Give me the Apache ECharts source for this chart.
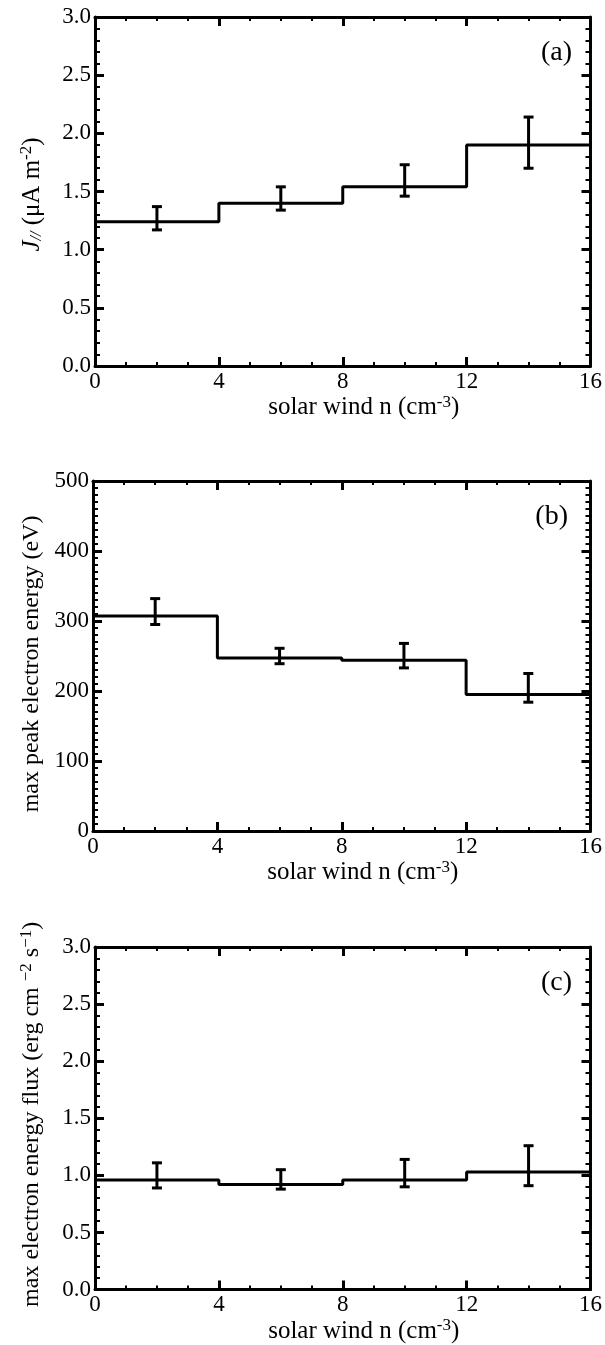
<!DOCTYPE html>
<html>
<head>
<meta charset="utf-8">
<script src="https://cdn.jsdelivr.net/npm/echarts@6/dist/echarts.min.js"></script>
<style>
html,body{margin:0;padding:0;background:#fff;}
#chart{width:605px;height:1345px;}
</style>
</head>
<body>
<div id="chart"></div>
<script>
// ---- data ----
var binEdges = [0, 4, 8, 12, 16];
var binCenters = [2, 6, 10, 14];
var xTicks = [0, 4, 8, 12, 16];

var jParValues = [1.24, 1.40, 1.54, 1.90];
var jParLow    = [1.17, 1.34, 1.46, 1.70];
var jParHigh   = [1.37, 1.54, 1.73, 2.14];

var peakEnergyValues = [307, 247, 244, 195];
var peakEnergyLow    = [295, 239, 233, 184];
var peakEnergyHigh   = [332, 261, 268, 225];

var fluxValues = [0.96, 0.92, 0.96, 1.03];
var fluxLow    = [0.89, 0.88, 0.90, 0.91];
var fluxHigh   = [1.11, 1.05, 1.14, 1.26];

var panelLabels = ['(a)', '(b)', '(c)'];
var xTitle = 'solar wind n (cm{sup|-3})';

// ---- layout/style ----
var FONT = 'Liberation Serif';
var panels = [
  {top: 17, left: 95, right: 8, height: 349, ymin: 0, ymax: 3, yint: 0.5, ysplit: 5, fmt: function(v){return v.toFixed(1);},
   yname: '{i|J}{sub|//} (\u03bcA m{sup|-2})', yfs: 25, ypad: [0, 6, 0, 0], lblRight: 33,
   vals: jParValues, lo: jParLow, hi: jParHigh},
  {top: 481, left: 93, right: 12, height: 350, ymin: 0, ymax: 500, yint: 100, ysplit: 10, fmt: function(v){return String(v);},
   yname: 'max peak electron energy (eV)', yfs: 24, ypad: [0, 16, 0, 0], lblRight: 37,
   vals: peakEnergyValues, lo: peakEnergyLow, hi: peakEnergyHigh},
  {top: 947, left: 95, right: 8, height: 350, ymin: 0, ymax: 3, yint: 0.5, ysplit: 5, fmt: function(v){return v.toFixed(1);},
   yname: 'max electron energy flux (erg cm {sup|\u22122} s{sup|\u22121})', yfs: 24, ypad: [0, 0, 0, 8], lblRight: 33,
   vals: fluxValues, lo: fluxLow, hi: fluxHigh}
];

var rich = {
  sup: {fontFamily: FONT, fontSize: 17, padding: [0, 0, 11, 0], color: '#000'},
  sub: {fontFamily: FONT, fontSize: 16, fontStyle: 'italic', padding: [10, 0, 0, 0], color: '#000'},
  i: {fontFamily: FONT, fontSize: 25, fontStyle: 'italic', color: '#000'}
};

var grids = [], xAxes = [], yAxes = [], series = [], titles = [];
var axisLine = {show: true, onZero: false, lineStyle: {color: '#000', width: 3}};
var tick = {show: true, inside: true, length: 9, lineStyle: {color: '#000', width: 3}};
var minorTickX = {show: true, splitNumber: 4, length: 4, lineStyle: {color: '#000', width: 2}};

panels.forEach(function(p, k) {
  grids.push({left: p.left, right: p.right, top: p.top, height: p.height, containLabel: false});
  // bottom x
  xAxes.push({type: 'value', gridIndex: k, position: 'bottom', min: 0, max: 16, interval: 4,
    axisLine: axisLine, axisTick: tick, minorTick: minorTickX, splitLine: {show: false},
    axisLabel: {show: true, margin: 4, fontFamily: FONT, fontSize: 23, color: '#000'},
    name: xTitle, nameLocation: 'middle', nameGap: 26,
    nameTextStyle: {fontFamily: FONT, fontSize: 25, color: '#000', rich: rich, padding: [0, 0, 0, 42]}});
  // top x
  xAxes.push({type: 'value', gridIndex: k, position: 'top', min: 0, max: 16, interval: 4,
    axisLine: axisLine, axisTick: tick, minorTick: minorTickX, splitLine: {show: false},
    axisLabel: {show: false}});
  var minorY = {show: true, splitNumber: p.ysplit, length: 5, lineStyle: {color: '#000', width: 2}};
  var r = JSON.parse(JSON.stringify(rich));
  yAxes.push({type: 'value', gridIndex: k, position: 'left', min: p.ymin, max: p.ymax, interval: p.yint,
    axisLine: axisLine, axisTick: tick, minorTick: minorY, splitLine: {show: false},
    axisLabel: {show: true, margin: 4, fontFamily: FONT, fontSize: 23, color: '#000', formatter: p.fmt},
    name: p.yname, nameLocation: 'middle', nameGap: 49, nameRotate: 90,
    nameTextStyle: {fontFamily: FONT, fontSize: p.yfs, color: '#000', rich: r, padding: p.ypad}});
  yAxes.push({type: 'value', gridIndex: k, position: 'right', min: p.ymin, max: p.ymax, interval: p.yint,
    axisLine: axisLine, axisTick: tick, minorTick: minorY, splitLine: {show: false},
    axisLabel: {show: false}});

  var stepData = binEdges.map(function(e, i) {
    return [e, p.vals[Math.min(i, p.vals.length - 1)]];
  });
  series.push({type: 'line', xAxisIndex: 2 * k, yAxisIndex: 2 * k, step: 'end', data: stepData,
    symbol: 'none', lineStyle: {color: '#000', width: 3}, silent: true, z: 3});

  var errData = binCenters.map(function(c, i) { return [c, p.lo[i], p.hi[i]]; });
  series.push({type: 'custom', xAxisIndex: 2 * k, yAxisIndex: 2 * k, data: errData, z: 4, silent: true,
    renderItem: function(params, api) {
      var x = api.value(0);
      var lo = api.coord([x, api.value(1)]);
      var hi = api.coord([x, api.value(2)]);
      var hw = 5;
      var st = {stroke: '#000', lineWidth: 3};
      return {type: 'group', children: [
        {type: 'line', shape: {x1: lo[0], y1: lo[1], x2: hi[0], y2: hi[1]}, style: st},
        {type: 'line', shape: {x1: lo[0] - hw, y1: lo[1], x2: lo[0] + hw, y2: lo[1]}, style: st},
        {type: 'line', shape: {x1: hi[0] - hw, y1: hi[1], x2: hi[0] + hw, y2: hi[1]}, style: st}
      ]};
    }});

  titles.push({text: panelLabels[k], right: p.lblRight, top: p.top + 22, padding: 0,
    textStyle: {fontFamily: FONT, fontSize: 28, fontWeight: 'normal', color: '#000'}});
});

var chart = echarts.init(document.getElementById('chart'), null, {renderer: 'canvas'});
chart.setOption({
  animation: false,
  backgroundColor: '#fff',
  title: titles,
  grid: grids,
  xAxis: xAxes,
  yAxis: yAxes,
  series: series
});
</script>
</body>
</html>
